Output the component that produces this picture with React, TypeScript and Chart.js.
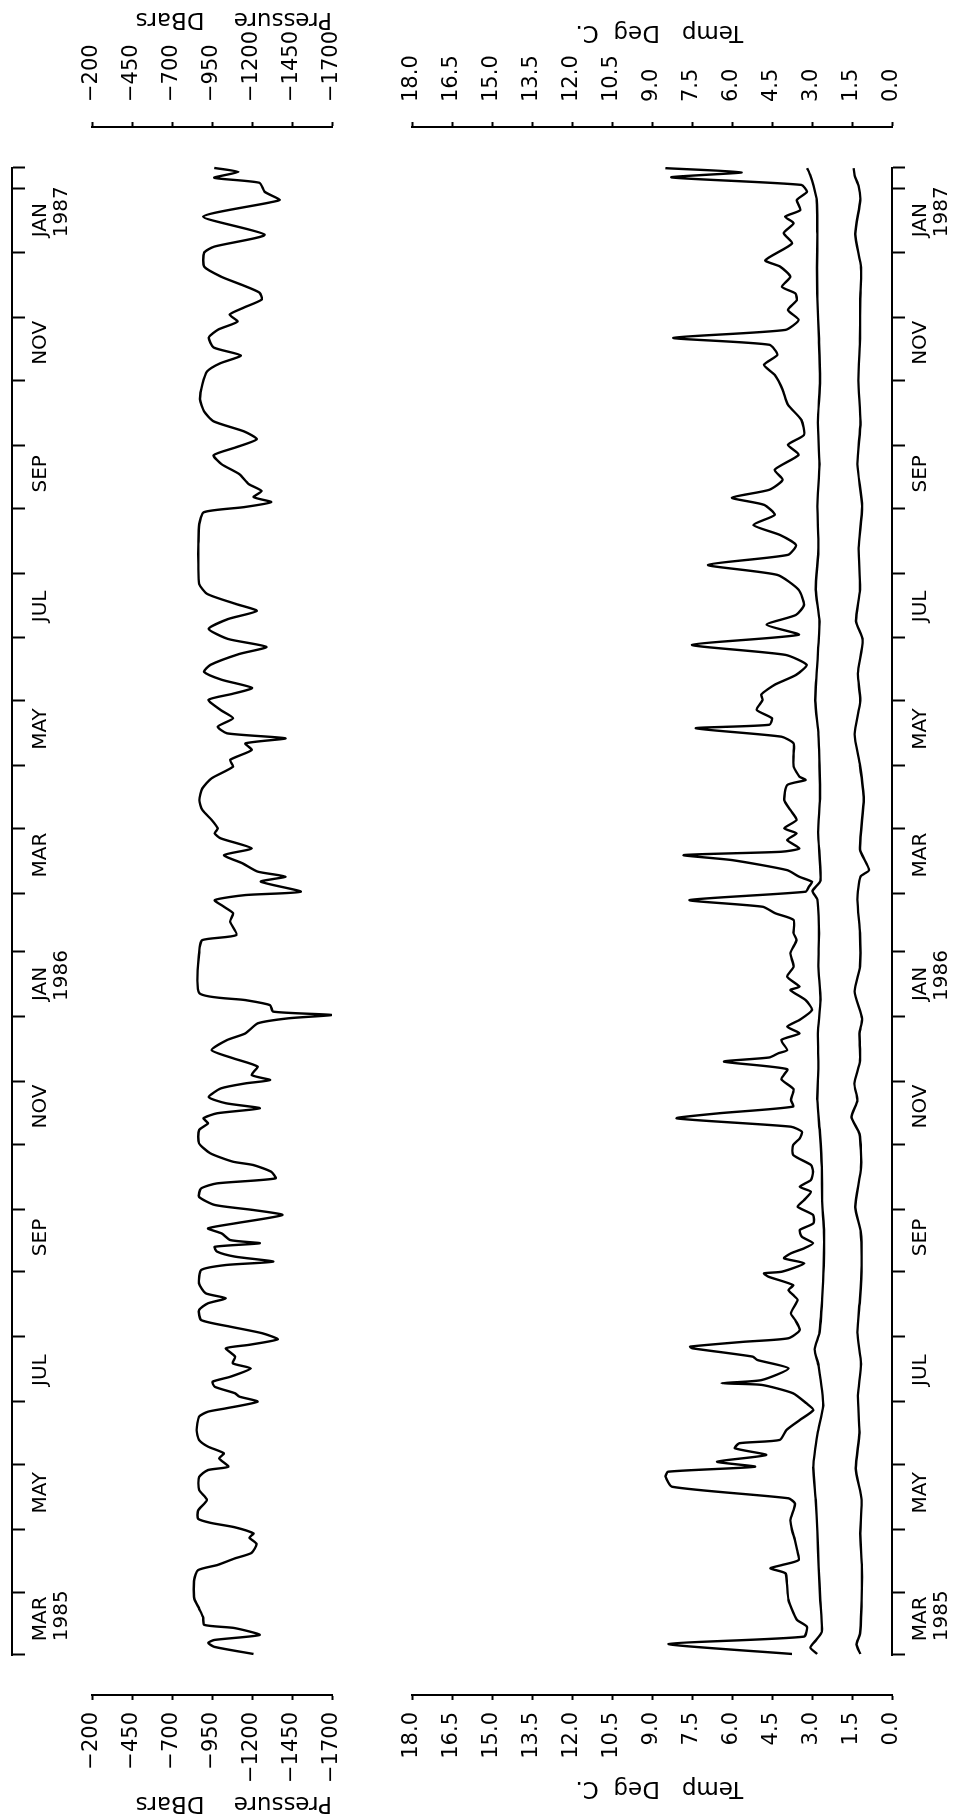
import { useEffect, useRef } from 'react';
import { Chart, registerables } from 'chart.js';

Chart.register(...registerables);

// ---------------- data (day 0 = 1 Mar 1985) ----------------
const pressureDay = [
  1.4, 4.8, 6.7, 8.1, 10.5, 13.8, 15.3, 19, 23, 28, 37, 41.5, 44, 47, 49.7, 54, 57, 59, 62, 64, 66, 70, 75,
  79.8, 86, 89.3, 90.9, 94.9, 97.3, 100.5, 103.7, 108.4, 114.8, 117.2, 118.8, 122, 124.4, 126, 129.1, 131.5,
  133.9, 137.9, 140.3, 143.5, 147.5, 149.1, 151.8, 154.7, 157.8, 161, 165.8, 169, 171.4, 173.8, 178.5, 184.9,
  187.3, 188.9, 191.3, 193.7, 196, 197.7, 199.2, 202.4, 204.8, 207.2, 211.2, 213.6, 216, 219.9, 223.9, 226.3,
  228.7, 231.9, 235.1, 236.7, 240.7, 245.5, 251.8, 255, 257.4, 259.8, 262.2, 264.6, 267.5, 271.7, 274.1, 275.7,
  278.1, 282.1, 286.1, 290, 294.8, 298, 302.8, 305.2, 306.8, 308.4, 311.5, 313.9, 317.2, 337.9, 342.6, 345,
  351.4, 355.4, 358.5, 361.7, 364.1, 365.7, 370.5, 372.9, 375.3, 379.3, 383.2, 386.4, 391.2, 393.6, 396, 400,
  404.7, 409.5, 415.1, 419.9, 425.5, 428.7, 433.4, 436.6, 439, 441.4, 444.6, 448.6, 452.5, 457.4, 460.3, 463.1,
  467, 470.8, 474.1, 479.3, 482.7, 486.5, 491.3, 496, 499.9, 503.2, 508, 512.8, 522.3, 531.9, 541.4, 547.1,
  549.5, 551.9, 554.3, 557.2, 560.5, 565.3, 570, 574.3, 578.1, 582, 585.7, 590.5, 595.3, 601, 608.2, 614.4,
  618.2, 622, 625.8, 630.6, 634.4, 638.2, 641.5, 644.9, 648.7, 652, 655.8, 659.6, 664.4, 671.1, 674, 679.7,
  688.3, 695, 696.4, 700.2, 704.5, 706.9, 709.7, 711.6,
];
const pressureDbar = [
  -1209, -965, -926, -965, -1248, -1090, -902, -894, -870, -839, -839, -863, -987, -1090, -1197, -1228, -1184,
  -1209, -1090, -945, -863, -863, -918, -869, -869, -925, -1052, -995, -1024, -925, -869, -854, -869, -925,
  -1038, -1235, -1121, -1094, -967, -953, -1065, -1192, -1080, -1094, -1037, -1178, -1360, -1263, -1066, -882,
  -869, -925, -1037, -910, -869, -882, -1037, -1333, -1094, -981, -967, -1249, -1065, -1010, -925, -1094,
  -1390, -1207, -967, -869, -882, -981, -1347, -1319, -1207, -1080, -939, -869, -869, -925, -897, -981, -1249,
  -1037, -930, -1005, -1159, -1313, -1197, -1235, -1082, -948, -1044, -1159, -1236, -1428, -1697, -1332,
  -1313, -1159, -871, -871, -890, -1102, -1063, -1082, -1025, -967, -1159, -1505, -1255, -1409, -1236, -1140,
  -1025, -1198, -1005, -967, -986, -948, -890, -871, -890, -948, -1082, -1063, -1198, -1159, -1409, -1044,
  -986, -1082, -1005, -928, -1080, -1200, -1010, -900, -940, -1120, -1290, -1050, -930, -1050, -1230, -1100,
  -920, -870, -865, -865, -870, -900, -1150, -1320, -1210, -1260, -1180, -1120, -1010, -960, -1100, -1230,
  -1150, -960, -900, -875, -890, -920, -1000, -1130, -960, -930, -990, -1110, -1060, -1150, -1260, -1247,
  -1134, -1008, -901, -901, -964, -1279, -895, -1304, -1373, -1279, -1247, -964, -1115, -964,
];

const tempDay = [
  1.4, 6.2, 9.7, 14.4, 17.6, 20.8, 27.2, 35.2, 40, 42.3, 43.9, 46.3, 51.1, 55.9, 60.6, 65.4, 70.2, 73.4, 75.8,
  81.3, 86.1, 88.5, 90.9, 93.3, 96.5, 99.7, 102.1, 103.7, 108.4, 113.2, 118, 121.2, 126, 130, 130.8, 132.3,
  137.9, 141.9, 143.5, 147.5, 148.3, 150.6, 152.3, 156.2, 161, 164.2, 170.6, 173, 175.3, 177.7, 181.7, 183.3,
  184.1, 188.1, 190.5, 192.9, 195.3, 197.7, 200.8, 204, 207.2, 211.2, 215.2, 218.4, 222.3, 224.7, 227.9,
  231.9, 235.1, 239.9, 244.6, 247.8, 251, 253.4, 257.4, 259.8, 263, 266.2, 271.3, 276.1, 280.9, 284.5, 286.5,
  288.5, 290, 294.8, 298, 301.2, 304.4, 309.2, 313.9, 318.7, 320.3, 325.1, 329.9, 336.3, 342.6, 345.8, 352.2,
  355.4, 358.5, 361.7, 365.7, 368, 370.4, 372.8, 376, 380.8, 383.2, 384.8, 386.4, 390.4, 393.6, 396, 400,
  404.7, 409.5, 416.7, 419.1, 420.7, 425.5, 431.8, 436.6, 439.8, 443.8, 445.5, 448.6, 452.6, 457.4, 460,
  464.6, 469.3, 474.1, 478.9, 483.7, 488.5, 493.3, 498, 502.8, 510, 517.1, 521.9, 526.7, 531.4, 536.2, 541,
  545.8, 550.6, 554, 557.8, 562.6, 567.4, 574.5, 579.3, 584, 591.2, 598.4, 605.6, 612.7, 617.5, 622.3, 627.1,
  630.4, 634.2, 639, 643.7, 648.5, 651.7, 654.8, 659.6, 664.4, 667.5, 675.5, 680.5, 685.2, 688.3, 691.5,
  696.3, 700.2, 703.5, 707.1, 709.5, 711.5,
];
const tempDegC = [
  3.75, 8.38, 3.3, 3.19, 3.56, 3.69, 3.88, 3.94, 4.0, 4.56, 4.13, 3.5, 3.56, 3.64, 3.75, 3.81, 3.69, 3.64, 3.88,
  8.24, 8.49, 8.4, 5.14, 6.56, 4.72, 5.89, 5.73, 4.21, 3.96, 3.46, 2.95, 3.21, 3.71, 4.89, 6.4, 4.89, 3.88,
  5.05, 5.22, 7.49, 7.57, 5.56, 3.88, 3.46, 3.63, 3.79, 3.54, 3.71, 3.88, 3.71, 4.63, 4.8, 4.13, 3.29, 4.05,
  3.79, 3.29, 2.96, 3.38, 3.46, 2.95, 2.96, 3.54, 3.29, 3.04, 3.46, 3.04, 2.96, 3.04, 3.71, 3.71, 3.46, 3.38,
  3.79, 8.07, 6.5, 3.71, 3.79, 3.69, 4.15, 3.93, 6.3, 4.6, 4.26, 3.93, 4.15, 3.47, 3.93, 3.47, 3.0, 3.24, 3.81,
  3.47, 3.93, 3.69, 3.81, 3.58, 3.69, 3.69, 4.38, 4.84, 7.59, 3.24, 3.12, 3.0, 3.47, 3.93, 5.99, 7.81, 4.15,
  3.47, 3.93, 3.58, 4.04, 3.58, 3.81, 4.04, 3.93, 3.24, 3.47, 3.69, 3.69, 3.69, 4.15, 7.36, 4.6, 4.5, 5.07,
  4.85, 4.9, 4.4, 3.6, 3.2, 4.0, 7.5, 3.5, 4.7, 3.6, 3.3, 3.5, 4.3, 6.9, 3.9, 3.6, 4.2, 5.2, 4.4, 4.8, 6.0,
  4.6, 4.1, 4.4, 3.5, 3.9, 3.3, 3.4, 3.9, 4.1, 4.4, 4.8, 4.3, 4.6, 8.2, 4.0, 3.5, 3.9, 3.57, 3.63, 4.13, 3.81,
  4.19, 4.75, 3.75, 4.06, 3.69, 4.01, 3.44, 3.57, 3.19, 3.4, 8.27, 5.64, 8.5,
];

const tempMidDay = [
  1.4, 4.5, 8, 12, 27, 43, 60, 75, 91, 107, 120, 139, 147, 155, 171, 187, 203, 218, 234, 250, 266, 282, 298,
  314, 330, 346, 362, 366, 371, 394, 410, 426, 441, 457, 475, 495, 510, 530, 550, 570, 590, 610, 630, 649,
  664, 680, 696, 703, 708, 711.5,
];
const tempMidDegC = [
  2.81, 3.06, 2.85, 2.63, 2.69, 2.75, 2.8, 2.86, 2.95, 2.79, 2.58, 2.75, 2.9, 2.72, 2.62, 2.56, 2.55, 2.62,
  2.63, 2.7, 2.8, 2.76, 2.78, 2.68, 2.76, 2.74, 2.8, 2.98, 2.68, 2.77, 2.7, 2.72, 2.76, 2.88, 2.8, 2.72, 2.86,
  2.76, 2.8, 2.72, 2.78, 2.7, 2.74, 2.8, 2.81, 2.8, 2.82, 2.94, 3.06, 3.18,
];

const tempLowDay = [
  1.4, 6, 11, 27, 43, 59, 75, 90, 107, 125, 140, 155, 171, 187, 203, 215, 234, 250, 258, 266, 274, 285, 298,
  305, 318, 330, 346, 362, 373, 376, 386, 410, 426, 441, 457, 470, 486, 495, 510, 530, 550, 570, 590, 610,
  630, 649, 664, 680, 696, 703, 708, 711.5,
];
const tempLowDegC = [
  1.19, 1.33, 1.2, 1.14, 1.13, 1.19, 1.14, 1.36, 1.22, 1.28, 1.16, 1.3, 1.2, 1.14, 1.17, 1.38, 1.16, 1.22,
  1.52, 1.3, 1.41, 1.2, 1.22, 1.12, 1.4, 1.2, 1.2, 1.3, 1.18, 0.86, 1.2, 1.06, 1.2, 1.4, 1.19, 1.28, 1.1, 1.35,
  1.2, 1.25, 1.12, 1.3, 1.18, 1.26, 1.2, 1.19, 1.16, 1.38, 1.19, 1.25, 1.4, 1.44,
];

const pressureTickValues = [-1700, -1450, -1200, -950, -700, -450, -200];
const tempTickValues = [0, 1.5, 3, 4.5, 6, 7.5, 9, 10.5, 12, 13.5, 15, 16.5, 18];

// month boundaries (days since 1 Mar 1985) and the labelled months
const monthBoundaryDay = [31, 61, 92, 122, 153, 184, 214, 245, 275, 306, 337, 365, 396, 426, 457, 487, 518, 549, 579, 610, 640, 671, 702];
const labelMonthStartDay = [0, 61, 122, 184, 245, 306, 365, 426, 487, 549, 610, 671];
const labelMonthText = [
  ['MAR', '1985'], ['MAY'], ['JUL'], ['SEP'], ['NOV'], ['JAN', '1986'],
  ['MAR'], ['MAY'], ['JUL'], ['SEP'], ['NOV'], ['JAN', '1987'],
];
const AXIS_START_DAY = 1;
const AXIS_END_DAY = 712;

// ---------------- layout (landscape frame, rotated afterwards) ----------------
const W = 1817;
const H = 955;
const FONT = "'DejaVu Sans', 'Liberation Sans', sans-serif";
const DAY0_PX = 160.1;
const PX_PER_DAY = 2.0924;
const dayToPx = (d: number) => DAY0_PX + d * PX_PER_DAY;
const pxToDay = (p: number) => (p - DAY0_PX) / PX_PER_DAY;
const PANEL_LEFT = 122;
const PANEL_RIGHT = 1690;
const P_TOP = 92;
const P_BOTTOM = 332;
const T_TOP = 412;
const T_BOTTOM = 892;
const FRAME_TOP = 12;
const LABEL_OFFSET_DAYS = 7.5;

const pts = (xs: number[], ys: number[]) => xs.map((x, i) => ({ x, y: ys[i] }));
const fmtP = (v: number) => (v < 0 ? '\u2212' : '') + String(Math.abs(v));
const fmtT = (v: number) => Number(v).toFixed(1);

const rightTitlePlugin = {
  id: 'rightTitle',
  afterDraw(chart: any, _args: any, opts: any) {
    if (!opts || !opts.text) return;
    const s = chart.scales[opts.scaleID];
    const ctx = chart.ctx;
    ctx.save();
    ctx.font = `${opts.size}px ${FONT}`;
    ctx.fillStyle = '#000';
    ctx.textBaseline = 'middle';
    const y = opts.align === 'start' ? s.bottom : (s.top + s.bottom) / 2;
    ctx.translate(opts.x, y);
    ctx.rotate(-Math.PI / 2);
    ctx.textAlign = opts.align === 'start' ? 'left' : 'center';
    ctx.fillText(opts.text, 0, 0);
    ctx.restore();
  },
};

function valueAxis(side: 'left' | 'right', min: number, max: number, tickValues: number[], fmt: (v: number) => string, title?: any) {
  return {
    type: 'linear',
    position: side,
    min,
    max,
    afterBuildTicks: (s: any) => {
      s.ticks = tickValues.map((v) => ({ value: v }));
    },
    afterFit: (s: any) => {
      s.width = side === 'left' ? PANEL_LEFT : W - PANEL_RIGHT;
    },
    ticks: {
      callback: (v: any) => fmt(Number(v)),
      font: { family: FONT, size: 21 },
      color: '#000',
      padding: side === 'left' ? 12 : 20,
      autoSkip: false,
    },
    grid: { drawOnChartArea: false, tickLength: 5, tickWidth: 2, tickColor: '#000' },
    border: { display: true, color: '#000', width: 2 },
    title: title || { display: false },
  };
}

function lineDs(data: any[], yAxisID: string) {
  return {
    data,
    xAxisID: 'x',
    yAxisID,
    borderColor: '#000',
    borderWidth: 2.4,
    pointRadius: 0,
    tension: 0.2,
    fill: false,
  };
}

const hiddenX = {
  type: 'linear',
  display: false,
  min: pxToDay(PANEL_LEFT),
  max: pxToDay(PANEL_RIGHT),
};

function timeTicksAxis(frameValue: number) {
  return {
    type: 'linear',
    axis: 'x',
    position: { yFrame: frameValue },
    min: AXIS_START_DAY,
    max: AXIS_END_DAY,
    afterBuildTicks: (s: any) => {
      s.ticks = [AXIS_START_DAY, ...monthBoundaryDay, AXIS_END_DAY].map((v) => ({ value: v }));
    },
    ticks: { display: false, autoSkip: false },
    grid: { display: true, drawOnChartArea: false, tickLength: 12, tickWidth: 2, tickColor: '#000' },
    border: { display: true, color: '#000', width: 2 },
  };
}

function timeLabelAxis(frameValue: number) {
  return {
    type: 'linear',
    axis: 'x',
    position: { yFrame: frameValue },
    min: AXIS_START_DAY,
    max: AXIS_END_DAY,
    afterBuildTicks: (s: any) => {
      s.ticks = labelMonthStartDay.map((v) => ({ value: v + LABEL_OFFSET_DAYS }));
    },
    ticks: {
      display: true,
      autoSkip: false,
      maxRotation: 0,
      minRotation: 0,
      align: 'start',
      padding: 18,
      color: '#000',
      font: { family: FONT, size: 20, lineHeight: '21px' },
      callback: (_v: any, i: number) => labelMonthText[i],
    },
    grid: { display: false, drawTicks: false },
    border: { display: false },
  };
}

export default function App() {
  const pRef = useRef<HTMLCanvasElement>(null);
  const tRef = useRef<HTMLCanvasElement>(null);
  const xRef = useRef<HTMLCanvasElement>(null);

  useEffect(() => {
    const common = {
      animation: false,
      responsive: false,
      events: [],
      plugins: { legend: { display: false }, tooltip: { enabled: false } },
    };

    const pressureChart = new Chart(pRef.current as HTMLCanvasElement, {
      type: 'line',
      data: { datasets: [lineDs(pts(pressureDay, pressureDbar), 'yL')] },
      plugins: [rightTitlePlugin],
      options: {
        ...common,
        plugins: {
          ...common.plugins,
          rightTitle: { text: 'Pressure    DBars', scaleID: 'yR', x: 1798.5, size: 23, align: 'start' },
        },
        layout: { padding: { left: 0, right: 0, top: P_TOP, bottom: H - P_BOTTOM } },
        scales: {
          x: hiddenX,
          yL: valueAxis('left', -1700, -200, pressureTickValues, fmtP, {
            display: true,
            text: 'Pressure    DBars',
            color: '#000',
            align: 'start',
            font: { family: FONT, size: 23 },
            padding: { top: 0, bottom: 0 },
          }),
          yR: valueAxis('right', -1700, -200, pressureTickValues, fmtP),
        },
      } as any,
    } as any);

    const tempChart = new Chart(tRef.current as HTMLCanvasElement, {
      type: 'line',
      data: {
        datasets: [
          lineDs(pts(tempDay, tempDegC), 'yL'),
          lineDs(pts(tempMidDay, tempMidDegC), 'yL'),
          lineDs(pts(tempLowDay, tempLowDegC), 'yL'),
        ],
      },
      plugins: [rightTitlePlugin],
      options: {
        ...common,
        plugins: {
          ...common.plugins,
          rightTitle: { text: 'Temp   Deg  C.  ', scaleID: 'yR', x: 1785.5, size: 23, align: 'center' },
        },
        layout: { padding: { left: 0, right: 0, top: T_TOP, bottom: H - T_BOTTOM } },
        scales: {
          x: hiddenX,
          yL: valueAxis('left', 0, 18, tempTickValues, fmtT, {
            display: true,
            text: 'Temp   Deg  C.  ',
            color: '#000',
            align: 'center',
            font: { family: FONT, size: 23 },
            padding: { top: 15, bottom: 0 },
          }),
          yR: valueAxis('right', 0, 18, tempTickValues, fmtT),
        },
      } as any,
    } as any);

    const timeChart = new Chart(xRef.current as HTMLCanvasElement, {
      type: 'line',
      data: { datasets: [] },
      options: {
        ...common,
        layout: {
          padding: {
            left: dayToPx(AXIS_START_DAY),
            right: W - dayToPx(AXIS_END_DAY),
            top: FRAME_TOP,
            bottom: H - T_BOTTOM,
          },
        },
        scales: {
          yFrame: { type: 'linear', display: false, min: 0, max: 1 },
          xTopTicks: timeTicksAxis(1),
          xTopLabels: timeLabelAxis(1),
          xBottomTicks: timeTicksAxis(0),
          xBottomLabels: timeLabelAxis(0),
        },
      } as any,
    } as any);

    return () => {
      pressureChart.destroy();
      tempChart.destroy();
      timeChart.destroy();
    };
  }, []);

  const canvasStyle: any = { position: 'absolute', left: 0, top: 0, width: W + 'px', height: H + 'px', display: 'block' };

  return (
    <div style={{ position: 'absolute', left: 0, top: 0, width: H, height: W, overflow: 'hidden', background: '#fff' }}>
      <div
        style={{
          position: 'absolute',
          left: 0,
          top: 0,
          width: W,
          height: H,
          transformOrigin: '0 0',
          transform: `translate(0px, ${W}px) rotate(-90deg)`,
        }}
      >
        <canvas ref={pRef} width={W} height={H} style={canvasStyle} />
        <canvas ref={tRef} width={W} height={H} style={canvasStyle} />
        <canvas ref={xRef} width={W} height={H} style={canvasStyle} />
      </div>
    </div>
  );
}
